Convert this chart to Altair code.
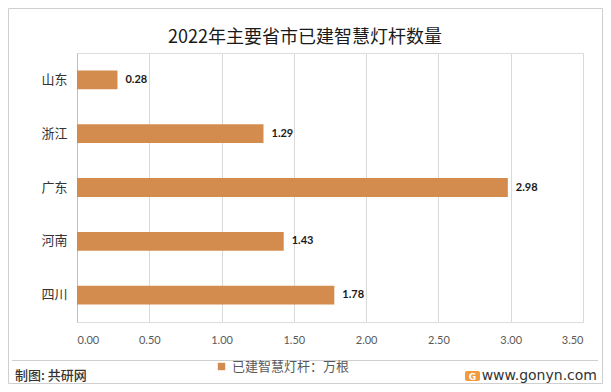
import altair as alt
import pandas as pd

provinces = ["山东", "浙江", "广东", "河南", "四川"]
values = [0.28, 1.29, 2.98, 1.43, 1.78]
series_name = "已建智慧灯杆：万根"
x_ticks = [0, 0.5, 1.0, 1.5, 2.0, 2.5, 3.0, 3.5]
title_text = "2022年主要省市已建智慧灯杆数量"
footer_left = "制图: 共研网"
footer_right = "www.gonyn.com"

df = pd.DataFrame({"province": provinces, "value": values, "series": [series_name] * len(values)})

CJK = "Noto Sans CJK SC"
NUM = "Lato"
BAR = "#D48C4E"

base = alt.Chart(df)
one = pd.DataFrame({"a": [0]})

bars = base.mark_bar(color=BAR).encode(
    y=alt.Y("province:N", sort=provinces, title=None,
            scale=alt.Scale(paddingInner=0.65, paddingOuter=0.325),
            axis=alt.Axis(labelFont=CJK, labelFontSize=13, labelColor="#333333",
                          ticks=False, domainColor="#bfbfbf", labelPadding=10)),
    x=alt.X("value:Q", title=None,
            scale=alt.Scale(domain=[0, 3.5], nice=False),
            axis=alt.Axis(values=x_ticks, format=".2f", labelFont=NUM, labelFontSize=11,
                          labelColor="#595959", gridColor="#d9d9d9", domain=False,
                          ticks=False, labelPadding=12)),
    color=alt.Color("series:N", scale=alt.Scale(range=[BAR]),
                    legend=alt.Legend(title=None, orient="none", legendX=138, legendY=307,
                                      symbolType="square", symbolSize=55,
                                      labelFont=CJK, labelFontSize=13, labelColor="#595959",
                                      symbolStrokeWidth=0)),
)

labels = base.mark_text(align="left", dx=8, font=NUM, fontSize=11, fontWeight="bold",
                        color="#1a1a1a").encode(
    y=alt.Y("province:N", sort=provinces),
    x="value:Q",
    text=alt.Text("value:Q", format=".2f"),
)

title = alt.Chart(pd.DataFrame({"t": [title_text]})).mark_text(
    align="center", baseline="middle", font=CJK, fontSize=18, color="#1a1a1a").encode(
    x=alt.value(228), y=alt.value(-15), text="t:N")

sep = alt.Chart(one).mark_rule(color="#d0d0d0", strokeWidth=1).encode(
    x=alt.value(-65), x2=alt.value(521), y=alt.value(307.5))

border = alt.Chart(one).mark_rect(
    fillOpacity=0, stroke="#cfcfcf", strokeWidth=1).encode(
    x=alt.value(-68.5), x2=alt.value(525.5), y=alt.value(-44.5), y2=alt.value(330.5))

fl = alt.Chart(pd.DataFrame({"t": [footer_left]})).mark_text(
    align="left", baseline="middle", font=CJK, fontSize=13, fontWeight=500,
    color="#333333").encode(
    x=alt.value(-62), y=alt.value(322.5), text="t:N")

logo = alt.Chart(one).mark_rect(color="#F39A3A", cornerRadius=2).encode(
    x=alt.value(388), x2=alt.value(403), y=alt.value(318), y2=alt.value(328))

logo_g = alt.Chart(pd.DataFrame({"t": ["G"]})).mark_text(
    align="center", baseline="middle", font="DejaVu Sans", fontSize=9, fontWeight="bold",
    color="white").encode(x=alt.value(395.5), y=alt.value(323.5), text="t:N")

fr = alt.Chart(pd.DataFrame({"t": [footer_right]})).mark_text(
    align="right", baseline="middle", font="DejaVu Sans", fontSize=14, color="#333333").encode(
    x=alt.value(520), y=alt.value(322.5), text="t:N")

chart = alt.layer(border, bars, labels, title, sep, fl, logo, logo_g, fr).properties(
    width=506, height=269,
    autosize=alt.AutoSizeParams(type="none"),
    padding={"left": 69, "top": 45, "right": 20, "bottom": 62},
).configure_view(stroke=None).configure(background="white")

chart.save("out.html", embed_options={"renderer": "svg", "actions": False})
